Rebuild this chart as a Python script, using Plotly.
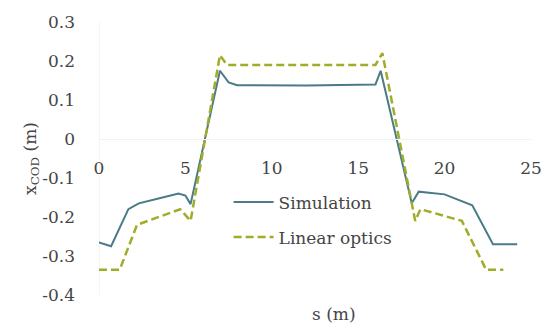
import plotly.graph_objects as go

# Data
sim_s = [0, 0.7, 1.7, 2.3, 3.5, 4.6, 5.0, 5.3, 7.0, 7.5, 8.0, 12.0, 16.0, 16.3, 18.1, 18.5, 20.0, 21.6, 22.8, 24.2]
sim_x = [-0.265, -0.275, -0.18, -0.165, -0.152, -0.14, -0.145, -0.167, 0.175, 0.145, 0.138, 0.137, 0.14, 0.175, -0.165, -0.135, -0.142, -0.17, -0.27, -0.27]

lin_s = [0, 1.2, 2.2, 3.5, 4.7, 5.3, 7.0, 7.4, 16.0, 16.4, 18.3, 18.6, 21.0, 22.4, 23.4]
lin_x = [-0.335, -0.335, -0.22, -0.2, -0.18, -0.21, 0.215, 0.19, 0.19, 0.22, -0.21, -0.18, -0.21, -0.335, -0.335]

x_ticks = [0, 5, 10, 15, 20, 25]
y_ticks = [-0.4, -0.3, -0.2, -0.1, 0, 0.1, 0.2, 0.3]
y_tick_labels = ["-0.4", "-0.3", "-0.2", "-0.1", "0", "0.1", "0.2", "0.3"]

x_range = [0, 25]
y_range = [-0.4, 0.3]

FONT = "DejaVu Serif"
TXT = "#454545"
F = dict(family=FONT, size=17, color=TXT)

fig = go.Figure()
fig.add_trace(go.Scatter(x=sim_s, y=sim_x, mode="lines", name="Simulation",
                         line=dict(color="#4a7b86", width=2), legendgroup="a"))
fig.add_trace(go.Scatter(x=lin_s, y=lin_x, mode="lines", name="Linear optics",
                         line=dict(color="#a0ac2a", width=2.5, dash="8px,4px"), legendgroup="b"))

zero_pos = (0 - y_range[0]) / (y_range[1] - y_range[0])

fig.update_layout(
    width=554, height=331,
    margin=dict(l=99, r=13, t=18, b=36),
    paper_bgcolor="white", plot_bgcolor="white",
    font=F,
    showlegend=True,
    legend=dict(x=0.30, y=0.405, xanchor="left", yanchor="top",
                bgcolor="rgba(0,0,0,0)", tracegroupgap=10,
                traceorder="grouped", itemwidth=40, font=F),
    xaxis=dict(range=x_range, tickvals=x_ticks, showgrid=False, zeroline=False,
               anchor="free", position=zero_pos, showline=True, linecolor="#f2f2f2",
               ticks="outside", ticklen=8, tickcolor="rgba(0,0,0,0)",
               ticklabelstandoff=6, tickfont=F),
    yaxis=dict(range=y_range, tickvals=y_ticks, ticktext=y_tick_labels,
               showgrid=False, zeroline=False, showline=False, ticks="",
               ticklabelstandoff=23, tickfont=F,
               title=dict(text="x<sub>COD</sub> (m)", standoff=0, font=F)),
    annotations=[dict(text="s (m)", xref="paper", yref="paper", x=0.545, y=-0.07,
                      xanchor="center", yanchor="middle", showarrow=False, font=F)],
    shapes=[dict(type="line", xref="x", yref="paper", x0=0, x1=0, y0=0, y1=1,
                 line=dict(color="#ececec", width=1), layer="below")],
)

fig.write_html("out.html")
